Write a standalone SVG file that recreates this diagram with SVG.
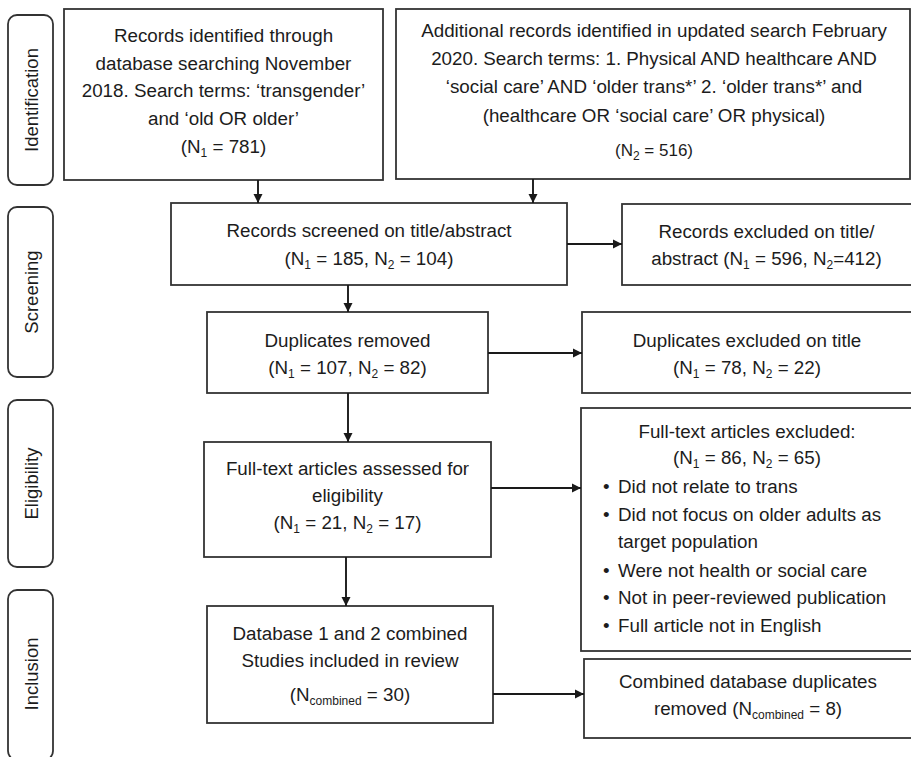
<svg xmlns="http://www.w3.org/2000/svg" width="911" height="757" viewBox="0 0 911 757">
<style>
  .bg { fill: #ffffff; }
  .box { fill: #ffffff; stroke: #333333; stroke-width: 1.8; }
  .stage { fill: #ffffff; stroke: #333333; stroke-width: 1.8; }
  .t { font-family: "Liberation Sans", Arial, sans-serif; font-size: 18.8px; fill: #1c1c1c; text-anchor: middle; }
  .l { font-family: "Liberation Sans", Arial, sans-serif; font-size: 18.8px; fill: #1c1c1c; text-anchor: start; }
  .st { font-family: "Liberation Sans", Arial, sans-serif; font-size: 18.5px; fill: #1c1c1c; text-anchor: middle; }
  .sub { font-size: 12px; }
  .conn { fill: none; stroke: #1a1a1a; stroke-width: 1.9; }
</style>
<defs>
  <marker id="arr" viewBox="0 0 10 10" markerUnits="userSpaceOnUse" markerWidth="9" markerHeight="10" refX="10" refY="5" orient="auto">
    <path d="M0,0 L10,5 L0,10 z" fill="#1a1a1a"/>
  </marker>
</defs>
<rect class="bg" x="0" y="0" width="911" height="757"/>

<g id="stage-identification">
  <rect class="stage" x="8" y="15" width="45" height="170" rx="9"/>
  <text class="st" transform="translate(31,100) rotate(-90)" dominant-baseline="central">Identification</text>
</g>
<g id="stage-screening">
  <rect class="stage" x="8" y="207" width="45" height="170" rx="9"/>
  <text class="st" transform="translate(31,292) rotate(-90)" dominant-baseline="central">Screening</text>
</g>
<g id="stage-eligibility">
  <rect class="stage" x="8" y="400" width="45" height="167" rx="9"/>
  <text class="st" transform="translate(31,483.5) rotate(-90)" dominant-baseline="central">Eligibility</text>
</g>
<g id="stage-inclusion">
  <rect class="stage" x="8" y="590" width="45" height="170" rx="9"/>
  <text class="st" transform="translate(31,674) rotate(-90)" dominant-baseline="central">Inclusion</text>
</g>

<g id="node-records-identified">
  <rect class="box" x="64" y="9" width="319" height="171"/>
  <text class="t" x="223.5" y="42">Records identified through</text>
  <text class="t" x="223.5" y="70">database searching November</text>
  <text class="t" x="223.5" y="97">2018. Search terms: ‘transgender’</text>
  <text class="t" x="223.5" y="125">and ‘old OR older’</text>
  <text class="t" x="223.5" y="153">(N<tspan class="sub" dy="4">1</tspan><tspan dy="-4"> = 781)</tspan></text>
</g>

<g id="node-additional-records">
  <rect class="box" x="396" y="9" width="514" height="170"/>
  <text class="t" x="654" y="37">Additional records identified in updated search February</text>
  <text class="t" x="654" y="65">2020. Search terms: 1. Physical AND healthcare AND</text>
  <text class="t" x="654" y="93">‘social care’ AND ‘older trans*’ 2. ‘older trans*’ and</text>
  <text class="t" x="654" y="122">(healthcare OR ‘social care’ OR physical)</text>
  <text class="t" x="654" y="156" style="font-size:17px">(N<tspan class="sub" dy="4">2</tspan><tspan dy="-4"> = 516)</tspan></text>
</g>

<g id="node-screened">
  <rect class="box" x="171" y="203" width="396" height="82"/>
  <text class="t" x="369" y="237">Records screened on title/abstract</text>
  <text class="t" x="369" y="265">(N<tspan class="sub" dy="4">1</tspan><tspan dy="-4"> = 185, N</tspan><tspan class="sub" dy="4">2</tspan><tspan dy="-4"> = 104)</tspan></text>
</g>

<g id="node-excluded-title">
  <rect class="box" x="622" y="204" width="291" height="81"/>
  <text class="t" x="766.5" y="238">Records excluded on title/</text>
  <text class="t" x="766.5" y="265">abstract (N<tspan class="sub" dy="4">1</tspan><tspan dy="-4"> = 596, N</tspan><tspan class="sub" dy="4">2</tspan><tspan dy="-4">=412)</tspan></text>
</g>

<g id="node-duplicates-removed">
  <rect class="box" x="207" y="312" width="281" height="81"/>
  <text class="t" x="347.5" y="347">Duplicates removed</text>
  <text class="t" x="347.5" y="374">(N<tspan class="sub" dy="4">1</tspan><tspan dy="-4"> = 107, N</tspan><tspan class="sub" dy="4">2</tspan><tspan dy="-4"> = 82)</tspan></text>
</g>

<g id="node-duplicates-excluded">
  <rect class="box" x="582" y="312" width="331" height="81"/>
  <text class="t" x="747" y="347">Duplicates excluded on title</text>
  <text class="t" x="747" y="374">(N<tspan class="sub" dy="4">1</tspan><tspan dy="-4"> = 78, N</tspan><tspan class="sub" dy="4">2</tspan><tspan dy="-4"> = 22)</tspan></text>
</g>

<g id="node-fulltext-assessed">
  <rect class="box" x="204" y="442" width="287" height="115"/>
  <text class="t" x="347.5" y="475">Full-text articles assessed for</text>
  <text class="t" x="347.5" y="502">eligibility</text>
  <text class="t" x="347.5" y="529">(N<tspan class="sub" dy="4">1</tspan><tspan dy="-4"> = 21, N</tspan><tspan class="sub" dy="4">2</tspan><tspan dy="-4"> = 17)</tspan></text>
</g>

<g id="node-fulltext-excluded">
  <rect class="box" x="581" y="408" width="332" height="243"/>
  <text class="t" x="747" y="438">Full-text articles excluded:</text>
  <text class="t" x="747" y="464">(N<tspan class="sub" dy="4">1</tspan><tspan dy="-4"> = 86, N</tspan><tspan class="sub" dy="4">2</tspan><tspan dy="-4"> = 65)</tspan></text>
  <text class="l" x="603" y="493">•</text>
  <text class="l" x="618" y="493">Did not relate to trans</text>
  <text class="l" x="603" y="521">•</text>
  <text class="l" x="618" y="521">Did not focus on older adults as</text>
  <text class="l" x="618" y="548">target population</text>
  <text class="l" x="603" y="577">•</text>
  <text class="l" x="618" y="577">Were not health or social care</text>
  <text class="l" x="603" y="604">•</text>
  <text class="l" x="618" y="604">Not in peer-reviewed publication</text>
  <text class="l" x="603" y="632">•</text>
  <text class="l" x="618" y="632">Full article not in English</text>
</g>

<g id="node-included">
  <rect class="box" x="207" y="606" width="286" height="117"/>
  <text class="t" x="350" y="640">Database 1 and 2 combined</text>
  <text class="t" x="350" y="667">Studies included in review</text>
  <text class="t" x="350" y="701">(N<tspan class="sub" dy="4">combined</tspan><tspan dy="-4"> = 30)</tspan></text>
</g>

<g id="node-combined-duplicates">
  <rect class="box" x="584" y="659" width="329" height="79"/>
  <text class="t" x="748" y="688">Combined database duplicates</text>
  <text class="t" x="748" y="715">removed (N<tspan class="sub" dy="4">combined</tspan><tspan dy="-4"> = 8)</tspan></text>
</g>

<g id="connectors">
  <line class="conn" x1="258" y1="180" x2="258" y2="203" marker-end="url(#arr)"/>
  <line class="conn" x1="533" y1="179" x2="533" y2="203" marker-end="url(#arr)"/>
  <line class="conn" x1="567" y1="244" x2="622" y2="244" marker-end="url(#arr)"/>
  <line class="conn" x1="348" y1="285" x2="348" y2="312" marker-end="url(#arr)"/>
  <line class="conn" x1="488" y1="353" x2="582" y2="353" marker-end="url(#arr)"/>
  <line class="conn" x1="348" y1="393" x2="348" y2="442" marker-end="url(#arr)"/>
  <line class="conn" x1="491" y1="488" x2="581" y2="488" marker-end="url(#arr)"/>
  <line class="conn" x1="346" y1="557" x2="346" y2="606" marker-end="url(#arr)"/>
  <line class="conn" x1="493" y1="694" x2="584" y2="694" marker-end="url(#arr)"/>
</g>
</svg>
